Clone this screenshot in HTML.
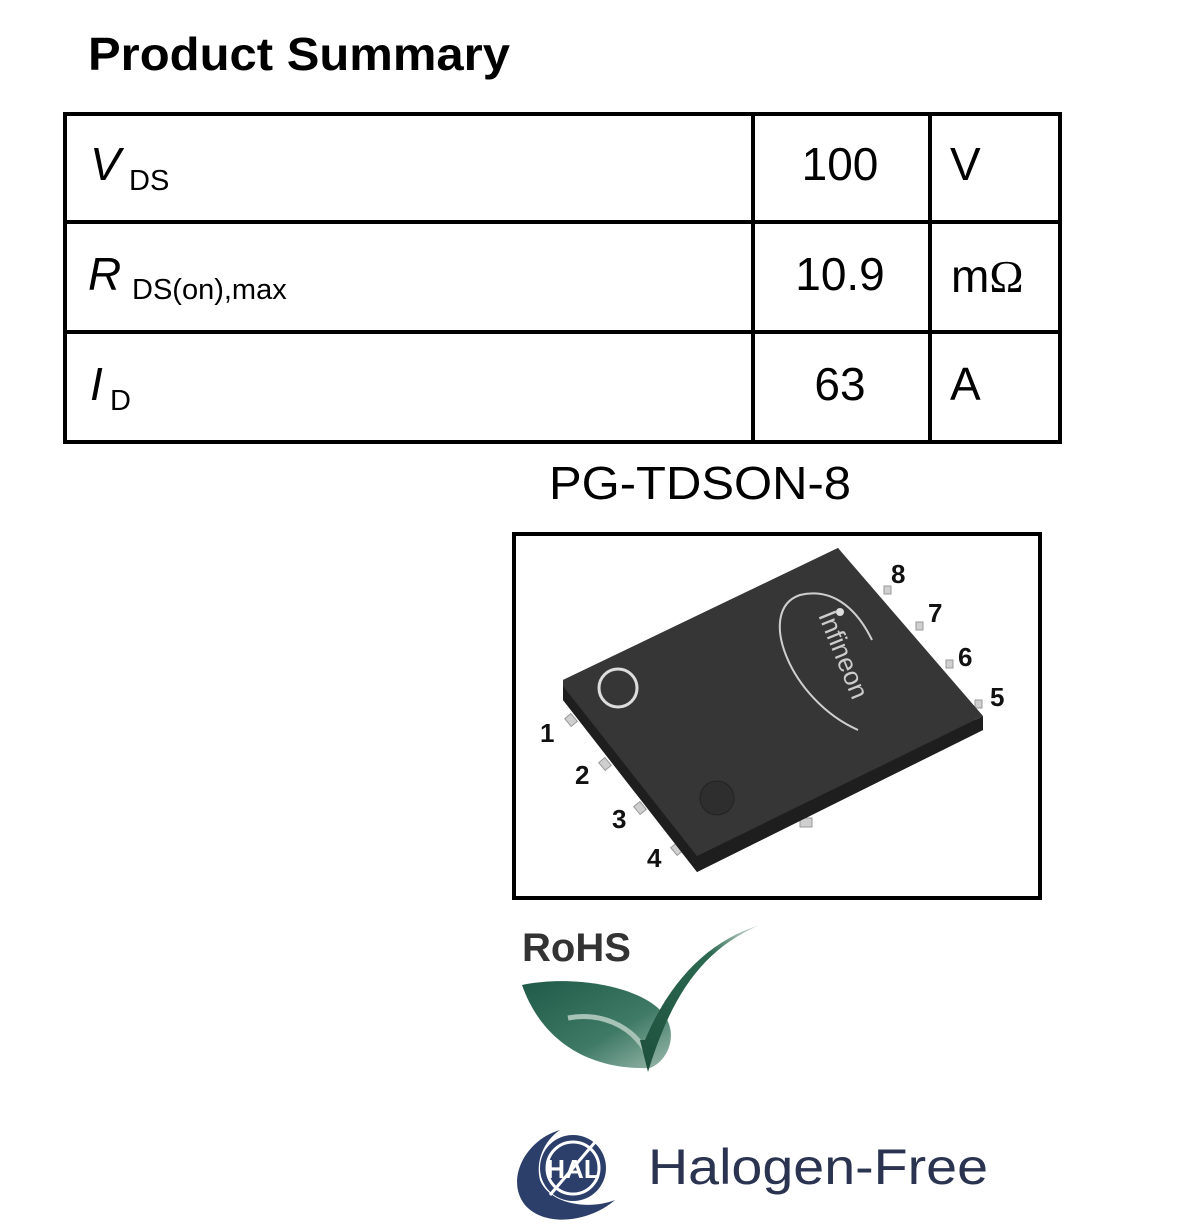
<!DOCTYPE html>
<html><head><meta charset="utf-8"><style>
html,body{margin:0;padding:0;background:#fff;}
svg{display:block;}
text{font-family:"Liberation Sans",sans-serif;}
</style></head><body>
<svg width="1202" height="1232" viewBox="0 0 1202 1232" xmlns="http://www.w3.org/2000/svg">
<defs>
<linearGradient id="leaf" x1="0" y1="0" x2="1" y2="1">
<stop offset="0" stop-color="#1f5a48"/><stop offset="0.6" stop-color="#3f7a66"/><stop offset="1" stop-color="#9bb9ad"/>
</linearGradient>
<linearGradient id="chk" x1="0" y1="1" x2="1" y2="0">
<stop offset="0" stop-color="#1d4f3c"/><stop offset="0.7" stop-color="#2d6a52"/><stop offset="1" stop-color="#dfe8e3"/>
</linearGradient>
</defs>
<text x="88" y="70" font-size="46" font-weight="bold" textLength="422" lengthAdjust="spacingAndGlyphs">Product Summary</text>

<g stroke="#000" stroke-width="4" fill="none">
<rect x="65" y="114" width="995" height="328"/>
<line x1="753" y1="114" x2="753" y2="442"/>
<line x1="930" y1="114" x2="930" y2="442"/>
<line x1="65" y1="222" x2="1060" y2="222"/>
<line x1="65" y1="332" x2="1060" y2="332"/>
</g>
<g font-size="46">
<text x="90" y="180" font-style="italic">V</text>
<text x="129" y="190" font-size="29">DS</text>
<text x="88" y="290" font-style="italic">R</text>
<text x="132" y="299" font-size="29">DS(on),max</text>
<text x="90" y="400" font-style="italic">I</text>
<text x="110" y="410" font-size="29">D</text>
<text x="840" y="180" text-anchor="middle">100</text>
<text x="840" y="290" text-anchor="middle">10.9</text>
<text x="840" y="400" text-anchor="middle">63</text>
<text x="950" y="180">V</text>
<text x="951" y="292">m<tspan font-family="Liberation Serif">Ω</tspan></text>
<text x="950" y="400">A</text>
</g>
<text x="549" y="499" font-size="46" textLength="302" lengthAdjust="spacingAndGlyphs">PG-TDSON-8</text>

<rect x="514" y="534" width="526" height="364" fill="#fff" stroke="#000" stroke-width="4"/>
<g fill="#cfcfcf" stroke="#999" stroke-width="1">
<rect x="566" y="716" width="10" height="8" transform="rotate(50 571 720)"/>
<rect x="600" y="760" width="10" height="8" transform="rotate(50 605 764)"/>
<rect x="635" y="804" width="10" height="8" transform="rotate(50 640 808)"/>
<rect x="672" y="845" width="10" height="8" transform="rotate(50 677 849)"/>
<rect x="800" y="818" width="12" height="9"/>
<rect x="884" y="586" width="7" height="8"/>
<rect x="916" y="622" width="7" height="8"/>
<rect x="946" y="660" width="7" height="8"/>
<rect x="975" y="700" width="7" height="8"/>
</g>
<polygon points="563,680 838,548 983,730 697,872 563,700" fill="#2a2a2a"/>
<polygon points="563,700 697,872 983,730 983,716 697,856 563,686" fill="#1e1e1e"/>
<polygon points="563,680 838,548 983,716 697,856 563,686" fill="#363636"/>
<circle cx="618" cy="688" r="19" fill="none" stroke="#ddd" stroke-width="3"/>
<circle cx="717" cy="798" r="17" fill="#2e2e2e" stroke="#222" stroke-width="1"/>
<path d="M858,730 C790,700 755,610 800,595 C830,588 855,605 872,640" fill="none" stroke="#cfcfcf" stroke-width="2"/>
<circle cx="840" cy="612" r="4" fill="#ddd"/>
<text x="0" y="0" font-size="26" fill="#ccc" transform="translate(818,615) rotate(68)">Infineon</text>
<g font-size="26" font-weight="bold" fill="#111">
<text x="540" y="742">1</text><text x="575" y="784">2</text><text x="612" y="828">3</text><text x="647" y="867">4</text>
<text x="990" y="706">5</text><text x="958" y="666">6</text><text x="928" y="622">7</text><text x="891" y="583">8</text>
</g>

<text x="522" y="961" font-size="40" font-weight="bold" fill="#333">RoHS</text>
<path d="M522,985 C570,975 635,985 660,1010 C680,1030 670,1060 650,1068 C600,1070 545,1050 522,985 Z" fill="url(#leaf)"/>
<path d="M568,1018 C600,1012 630,1025 645,1050" stroke="#a7c2b6" stroke-width="5" fill="none"/>
<path d="M640,1040 L648,1072 C670,1000 700,950 760,925 C710,940 670,980 645,1040 Z" fill="url(#chk)"/>

<path d="M560,1130 C525,1140 505,1180 525,1205 C545,1228 590,1222 615,1200 C590,1210 550,1205 540,1180 C535,1160 545,1140 560,1130 Z" fill="#2c3f6b"/>
<circle cx="573" cy="1168" r="33" fill="#2c3f6b"/>
<circle cx="573" cy="1168" r="26" fill="none" stroke="#fff" stroke-width="3"/>
<text x="573" y="1178" font-size="26" font-weight="bold" fill="#fff" text-anchor="middle">HAL</text>
<line x1="550" y1="1195" x2="596" y2="1141" stroke="#fff" stroke-width="3"/>
<text x="648" y="1184" font-size="50" fill="#2a3350" textLength="340" lengthAdjust="spacingAndGlyphs">Halogen-Free</text>
</svg>
</body></html>
